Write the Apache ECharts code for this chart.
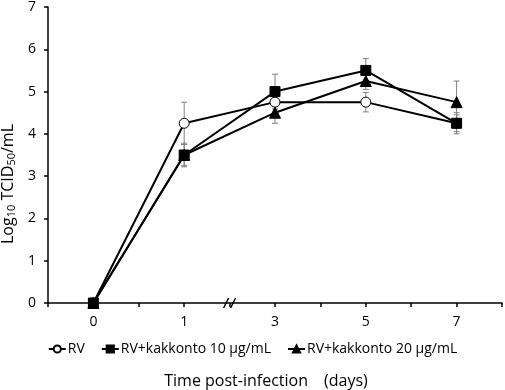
<!DOCTYPE html>
<html>
<head>
<meta charset="utf-8">
<script src="https://cdn.jsdelivr.net/npm/echarts@6/dist/echarts.min.js"></script>
<style>
  html, body { margin: 0; padding: 0; background: #fff; }
  #chart { width: 505px; height: 390px; }
</style>
</head>
<body>
<div id="chart"></div>
<script>
  // days post-infection (categorical, with a break between 1 and 3)
  const days = ['0', '1', '3', '5', '7']
  const rv = [0, 4.25, 4.75, 4.75, 4.25]
  const rvErr = [0, 0.5, 0.1, 0.23, 0.2]
  const kk10 = [0, 3.5, 5.0, 5.5, 4.25]
  const kk10Err = [0, 0.28, 0.41, 0.28, 0.25]
  const kk20 = [0, 3.5, 4.5, 5.25, 4.75]
  const kk20Err = [0, 0.25, 0.25, 0.2, 0.5]
  const yTicks = [0, 1, 2, 3, 4, 5, 6, 7]

  const font = '"Open Sans", "Liberation Sans", sans-serif'
  // category i sits at x = 2i+1 on a 0..10 axis, ticks every half step
  const xPos = i => 2 * i + 1

  function pts(vals) {
    return vals.map((v, i) => [xPos(i), v])
  }
  function errPts(vals, errs) {
    return vals.map((v, i) => [xPos(i), v - errs[i], v + errs[i]])
  }

  function errorBar(params, api) {
    const lo = api.coord([api.value(0), api.value(1)])
    const hi = api.coord([api.value(0), api.value(2)])
    const w = 3
    const style = { stroke: '#808080', lineWidth: 1 }
    return {
      type: 'group',
      children: [
        { type: 'line', shape: { x1: lo[0], y1: lo[1], x2: hi[0], y2: hi[1] }, style },
        { type: 'line', shape: { x1: lo[0] - w, y1: lo[1], x2: lo[0] + w, y2: lo[1] }, style },
        { type: 'line', shape: { x1: hi[0] - w, y1: hi[1], x2: hi[0] + w, y2: hi[1] }, style }
      ]
    }
  }

  function lineSeries(name, data, symbol, size, fill) {
    return {
      name,
      type: 'line',
      data: pts(data),
      symbol,
      symbolSize: size,
      showAllSymbol: true,
      z: 3,
      lineStyle: { color: '#000', width: 2 },
      itemStyle: { color: fill, borderColor: '#000', borderWidth: 1 }
    }
  }

  function errSeries(data, errs) {
    return {
      type: 'custom',
      renderItem: errorBar,
      data: errPts(data, errs),
      z: 1,
      silent: true
    }
  }

  const chart = echarts.init(document.getElementById('chart'))
  const option = {
    animation: false,
    grid: { left: 48, right: 3, top: 7, bottom: 87, outerBoundsMode: 'none' },
    legend: {
      bottom: 34,
      left: 'center',
      width: 495,
      padding: 0,
      itemWidth: 17,
      itemHeight: 9,
      itemGap: 16,
      textStyle: { fontFamily: font, fontSize: 14, color: '#000', padding: [0, 0, 0, -3] },
      data: ['RV', 'RV+kakkonto 10 µg/mL', 'RV+kakkonto 20 µg/mL']
    },
    xAxis: {
      type: 'value',
      min: 0,
      max: 10,
      interval: 1,
      name: 'Time post-infection\u3000(days)',
      nameLocation: 'middle',
      nameGap: 70,
      nameTextStyle: { fontFamily: font, fontSize: 16, color: '#000', padding: [0, 18, 0, 0] },
      axisLine: { lineStyle: { color: '#000', width: 1.5 } },
      axisTick: { show: true, length: 4, lineStyle: { color: '#000', width: 1.5 } },
      axisLabel: {
        fontFamily: font, fontSize: 14, color: '#000', margin: 12,
        formatter: v => (v % 2 === 1 ? days[(v - 1) / 2] : '')
      },
      splitLine: { show: false }
    },
    yAxis: {
      type: 'value',
      min: 0,
      max: 7,
      interval: 1,
      name: 'Log{sub|10} TCID{sub|50}/mL',
      nameLocation: 'middle',
      nameGap: 30,
      nameRotate: 90,
      nameTextStyle: {
        fontFamily: font, fontSize: 16, color: '#000', padding: [0, 58, 0, 0],
        rich: { sub: { fontFamily: font, fontSize: 11, color: '#000', verticalAlign: 'bottom', padding: [6, 0, 0, 0] } }
      },
      axisLine: { show: true, lineStyle: { color: '#000', width: 1.5 } },
      axisTick: { show: true, length: 4, lineStyle: { color: '#000', width: 1.5 } },
      axisLabel: {
        fontFamily: font, fontSize: 14, color: '#000', margin: 12,
        formatter: v => (yTicks.includes(v) ? String(v) : '')
      },
      splitLine: { show: false }
    },
    series: [
      errSeries(rv, rvErr),
      errSeries(kk10, kk10Err),
      errSeries(kk20, kk20Err),
      lineSeries('RV', rv, 'circle', 10, '#fff'),
      lineSeries('RV+kakkonto 10 µg/mL', kk10, 'rect', 10, '#000'),
      lineSeries('RV+kakkonto 20 µg/mL', kk20, 'triangle', 11, '#000')
    ]
  }
  chart.setOption(option)

  // axis break mark between day 1 and day 3
  const bp = chart.convertToPixel({ gridIndex: 0 }, [4, 0])
  chart.setOption({
    graphic: [{
      type: 'group',
      x: bp[0],
      y: bp[1],
      z: 100,
      children: [
        { type: 'rect', shape: { x: -6, y: -3, width: 12, height: 6 }, style: { fill: '#fff' } },
        { type: 'line', shape: { x1: -6, y1: 5, x2: -1, y2: -5 }, style: { stroke: '#000', lineWidth: 1.5 } },
        { type: 'line', shape: { x1: 1, y1: 5, x2: 6, y2: -5 }, style: { stroke: '#000', lineWidth: 1.5 } }
      ]
    }]
  })
</script>
</body>
</html>
